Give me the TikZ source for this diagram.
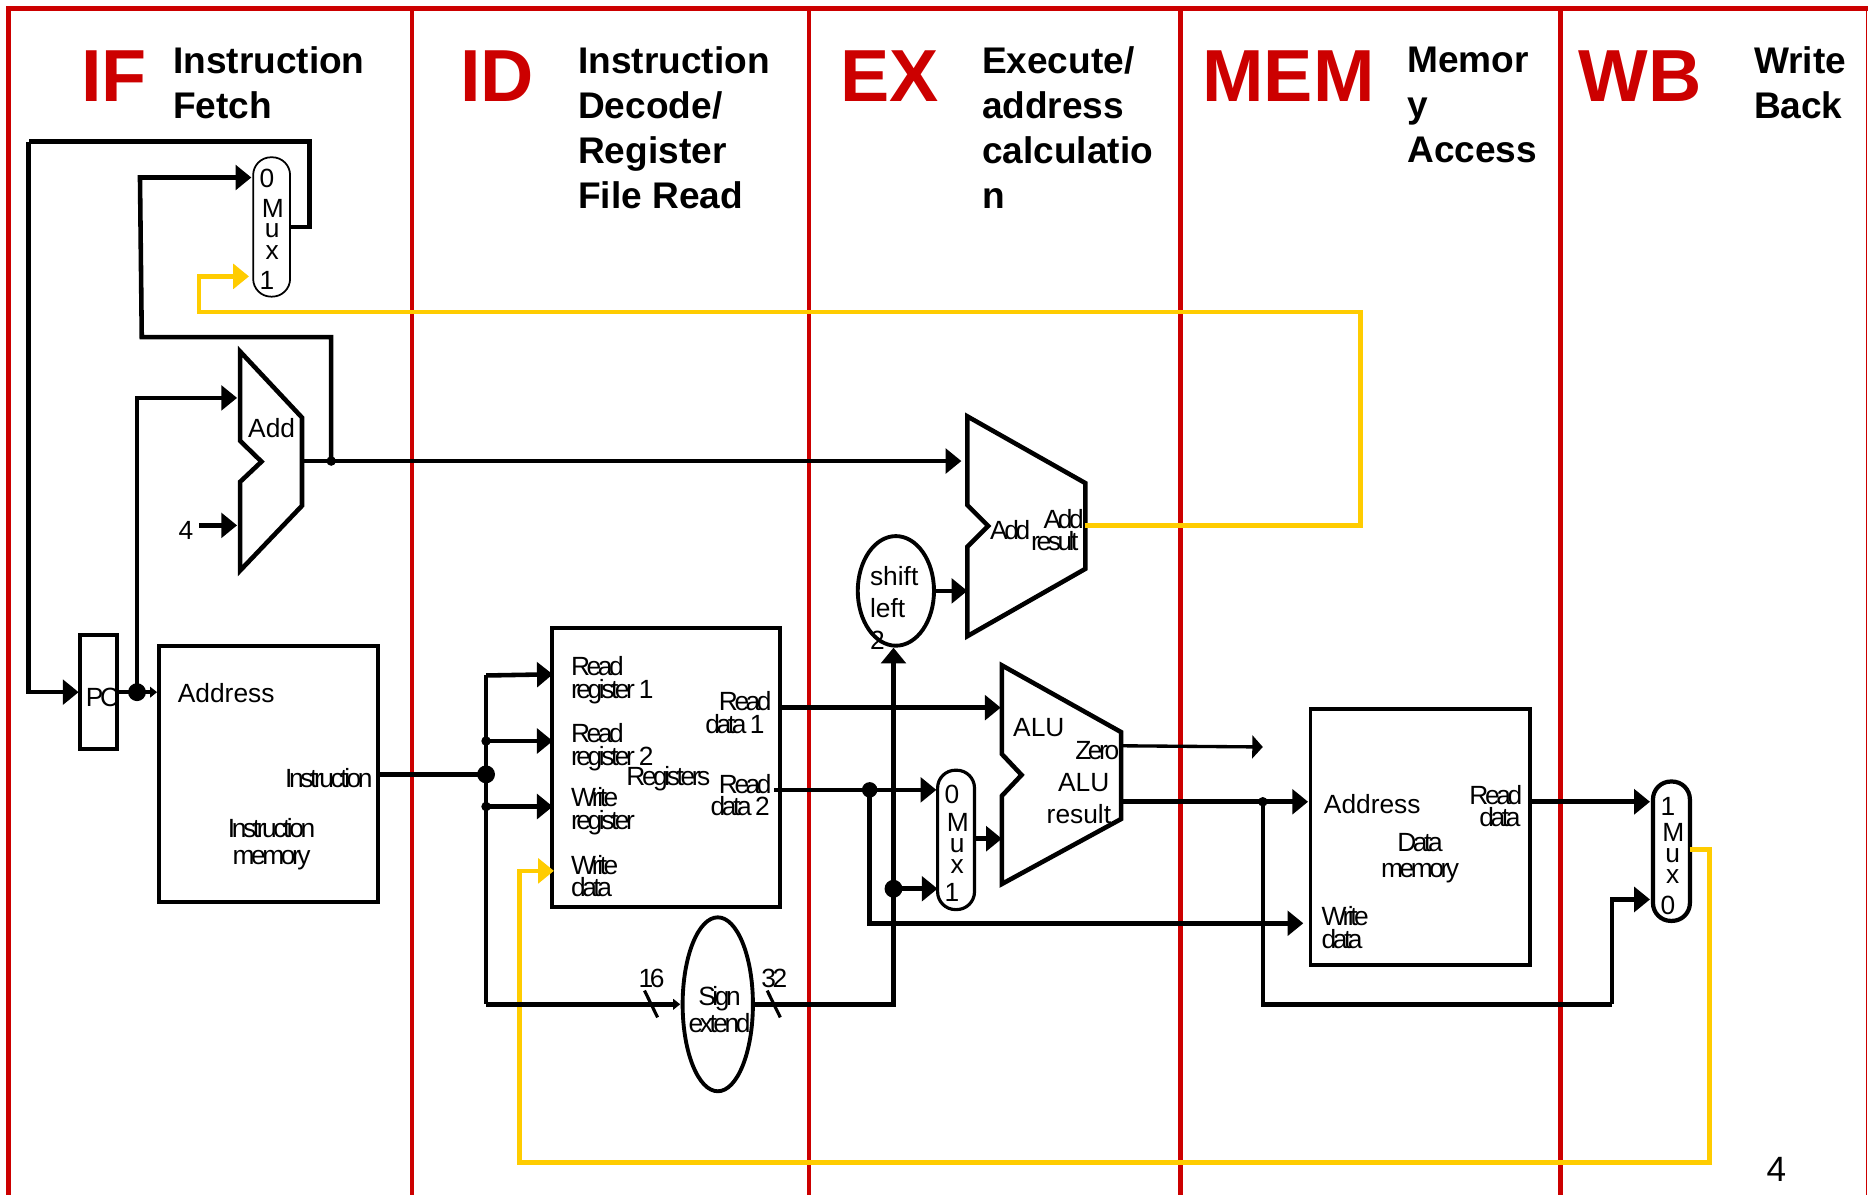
\documentclass[tikz,border=0pt]{standalone}
\usepackage{fontspec}
\setmainfont{Liberation Sans}
\newfontfamily\tightfont[LetterSpace=-13]{Liberation Sans}
\usetikzlibrary{arrows.meta,shapes.geometric}
\begin{document}
\begin{tikzpicture}[x=.023827cm,y=-.023827cm]
  \definecolor{stagered}{HTML}{CC0000}
  \definecolor{backwire}{HTML}{FFCC00}
  \def\u{.023827cm}
  \tikzset{
    wire/.style={line width=2.6pt},
    feed/.style={-{Triangle[length=9pt,width=14pt]}},
    tinyfeed/.style={-{Triangle[length=4pt,width=6pt]}},
    back/.style={line width=2.6pt,draw=backwire},
    unit/.style={draw,line width=2.2pt,inner sep=0pt},
    muxbox/.style={unit,rounded corners=15*\u,minimum width=31*\u,minimum height=117*\u},
    dot/.style={circle,fill=black,inner sep=0pt,minimum size=15*\u},
    smalldot/.style={circle,fill=black,inner sep=0pt,minimum size=8*\u},
    lab/.style={inner sep=0pt,font=\fontsize{15}{18.2}\selectfont},
    tight/.style={inner sep=0pt,font=\tightfont\fontsize{15}{12.9}\selectfont},
    stage/.style={inner sep=0pt,text=stagered,font=\bfseries\fontsize{42}{48}\selectfont},
    title/.style={inner sep=0pt,anchor=north west,align=left,font=\bfseries\fontsize{21.1}{25.6}\selectfont}
  }
  \useasboundingbox (0,0) rectangle (1568,1003);

  % Stage columns sit under everything else.
  \draw[stagered,line width=2.6pt] (7,1003) -- (7,7) -- (1568,7);
  \foreach \colx in {346,679,991,1310}
    \draw[stagered,line width=2.6pt] (\colx,7) -- (\colx,1003);
  \draw[stagered,line width=.5pt] (1567,7) -- (1567,1003);

  \foreach \st/\px in {IF/68,ID/386,EX/705,MEM/1009,WB/1325}
    \node[stage,anchor=base west] (\st) at (\px,85) {\st};
  \node[title] (iftitle) at (145,39) {Instruction\\Fetch};
  \node[title] (idtitle) at (485,39) {Instruction\\Decode/\\Register\\File Read};
  \node[title] (extitle) at (824,39) {Execute/\\address\\calculatio\\n};
  \node[title] (memtitle) at (1181,39.5) {Memor\\y\\Access};
  \node[title] (wbtitle) at (1472,39) {Write\\Back};

  % Units
  \node[unit,minimum width=31*\u,minimum height=96*\u] (pc) at (82.5,581) {};
  \node[unit,minimum width=184*\u,minimum height=215*\u] (imem) at (225.5,649.5) {};
  \node[unit,minimum width=192*\u,minimum height=234*\u] (regs) at (559,644) {};
  \node[unit,minimum width=184*\u,minimum height=215*\u] (dmem) at (1192,702.5) {};
  \node[unit,ellipse,minimum width=59*\u,minimum height=146*\u] (signext) at (602.5,843) {};
  \node[unit,ellipse,minimum width=64*\u,minimum height=92*\u] (shiftl) at (752,496) {};
  \node[muxbox,line width=1pt] (ifmux) at (228,190.5) {};
  \node[muxbox,line width=1.8pt] (exmux) at (802.5,705) {};
  \node[muxbox,line width=2.4pt] (wbmux) at (1403,714.5) {};
  \draw[wire] (201.5,295) -- (253.5,350.5) -- (253.5,424.5) -- (201.5,479)
    -- (201.5,404.5) -- (219.5,387.5) -- (201.5,370) -- cycle;
  \draw[wire] (812,349.5) -- (911,405.5) -- (911,477.5) -- (812,534)
    -- (812,459) -- (829.5,441.5) -- (812,424) -- cycle;
  \draw[wire] (841,558.5) -- (941,614.5) -- (941,687.5) -- (841,742)
    -- (841,668) -- (857.5,650.5) -- (841,633) -- cycle;

  % Labels
  \node[tight] (pclab) at (86,585) {PC};
  \node[lab] (pcadd) at (228,359) {Add};
  \node[lab] (four) at (156,445) {4};
  \node[lab,anchor=west] (imaddr) at (149,582) {Address};
  \node[tight,anchor=east] (imout) at (313,653) {Instruction};
  \node[tight,align=center] (imname) at (228,708.5) {Instruction\\[2.7pt]memory};
  \node[tight,anchor=west,align=left] (rr1) at (479,571) {Read\\register 1};
  \node[tight,anchor=west,align=left] (rr2) at (479,627) {Read\\register 2};
  \node[tight,anchor=west,align=left] (wr) at (479,681) {Write\\register};
  \node[tight,anchor=west,align=left] (wd) at (479,735.5) {Write\\data};
  \node[tight] (regname) at (561,654) {Registers};
  \node[tight,anchor=east,align=right] (rd1) at (648,598) {Read\\data\hspace{2pt}1\hspace*{4pt}};
  \node[tight,anchor=east,align=right] (rd2) at (648,667.5) {Read\\data\hspace{2pt}2\hspace*{1pt}};
  \node[tight,align=center] (signlab) at (604,847.5) {Sign\\extend};
  \node[tight] (w16) at (547,821) {16};
  \node[tight] (w32) at (650,821) {32};
  \node[lab,anchor=west,align=left] (shiftlab) at (730,510) {shift\\left\\2};
  \node[tight] (addlab) at (848,445) {Add};
  \node[tight,anchor=east,align=right] (addres) at (910,445) {Add\\result\hspace*{3pt}};
  \node[lab] (alulab) at (872,611) {ALU};
  \node[tight] (zerolab) at (921,630) {Zero};
  \node[lab,anchor=east,align=right] (alures) at (933,670.5) {ALU\hspace*{1pt}\\result};
  \node[lab,anchor=west] (dmaddr) at (1111,675) {Address};
  \node[tight,anchor=east,align=right] (dmread) at (1278,676.5) {Read\\data\hspace*{1pt}};
  \node[tight,align=center] (dmname) at (1192,720.5) {Data\\[2.2pt]memory};
  \node[tight,anchor=west,align=left] (dmwrite) at (1109,778.5) {Write\\data};
  \node[lab,font=\fontsize{20}{24}\selectfont] (pageno) at (1491,982) {4};
  \foreach \ch/\px/\py in {0/224/150,M/229/175,u/228.5/194,x/228.5/212,1/224/235}
    \node[lab] (ifmux-\ch) at (\px,\py) {\ch};
  \foreach \ch/\px/\py in {0/799/667,M/804/690,u/803.5/710,x/803.5/727,1/799/749}
    \node[lab] (exmux-\ch) at (\px,\py) {\ch};
  \foreach \ch/\px/\py in {1/1400/677,M/1404.5/699,u/1404/718,x/1404/736,0/1400/760}
    \node[lab] (wbmux-\ch) at (\px,\py) {\ch};

  % Pins and junctions
  \coordinate (looptop) at (260,119);
  \coordinate (loopleft) at (24,119);
  \coordinate (pcin) at (66,581);
  \coordinate (if0) at (211,149);
  \coordinate (if1) at (209,232);
  \coordinate (add1) at (199,334);
  \coordinate (add2) at (199,441);
  \coordinate (fourout) at (167,441);
  \coordinate (addout) at (253.5,387);
  \coordinate (exaddin) at (807,387);
  \coordinate (exaddout) at (911,441);
  \coordinate (pcbackup) at (278,283);
  \coordinate (pcbackleft) at (119,283);
  \coordinate (pcbacktop) at (117.5,149);
  \coordinate (instrout) at (317.5,650);
  \coordinate (rrin1) at (464,566);
  \coordinate (rrin2) at (464,622);
  \coordinate (wrin) at (464,677);
  \coordinate (wdin) at (465,731);
  \coordinate (rdout1) at (655,594);
  \coordinate (rdout2) at (650,663);
  \coordinate (aluin1) at (840,594);
  \coordinate (exin0) at (786,663);
  \coordinate (exin1) at (787,746);
  \coordinate (exout) at (818,704);
  \coordinate (aluin2) at (841,704);
  \coordinate (shiftout) at (784,496);
  \coordinate (shiftin) at (812,496);
  \coordinate (zeroout) at (941,626);
  \coordinate (zeroend) at (1060,627);
  \coordinate (aluout) at (941,673);
  \coordinate (dmin) at (1098,673);
  \coordinate (dmwd) at (1094,775);
  \coordinate (wbin1) at (1385,673);
  \coordinate (wbin0) at (1385,755);
  \coordinate (dmout) at (1284,673);
  \coordinate (sxin) at (571,843);
  \coordinate (sxout) at (632,843);
  \coordinate (wbout) at (1418.5,713);
  \coordinate (backright) at (1435,976);
  \coordinate (backleft) at (436,976);
  \coordinate (ifback) at (167,262);
  \coordinate (backturn) at (1142,262);
  \node[dot] (pcjoin) at (115,581) {};
  \node[smalldot] (addjoin) at (278,387) {};
  \node[dot] (busjoin) at (408,650) {};
  \node[smalldot] (busj2) at (408,622) {};
  \node[smalldot] (busj3) at (408,677) {};
  \coordinate (bustop) at (408,567);
  \coordinate (busbot) at (408,843);
  \node[dot,minimum size=13*\u] (rd2join) at (730,663) {};
  \node[dot] (sxjoin) at (750,746) {};
  \coordinate (sxturn) at (750,843);
  \node[smalldot] (alujoin) at (1060,673) {};
  \coordinate (aluturn) at (1060,843);
  \coordinate (wbturn) at (1353,843);

  % Selected-branch and write-back wires
  \draw[back,feed] (exaddout) -| (backturn) -- (ifback) |- (if1);
  \draw[back,feed] (wbout) -| (backright) -- (backleft) |- (wdin);

  % Data path
  \draw[wire] (ifmux.east) -| (looptop) -- (loopleft);
  \draw[wire,feed] (loopleft) |- (pcin);
  \draw[wire,tinyfeed] (pc.east |- pcjoin) -- (imem.west |- pcjoin);
  \draw[wire,feed] (pcjoin.center) |- (add1);
  \draw[wire,feed] (fourout) -- (add2);
  \draw[wire,feed] (addout) -- (exaddin);
  \draw[wire,feed] (addjoin.center) -- (pcbackup) -- (pcbackleft) -- (pcbacktop) -- (if0);
  \draw[wire] (instrout) -- (busjoin.center);
  \draw[wire,feed] (bustop) -- (rrin1);
  \draw[wire] (bustop) -- (busbot);
  \draw[wire,feed] (busj2.center) -- (rrin2);
  \draw[wire,feed] (busj3.center) -- (wrin);
  \draw[wire,tinyfeed] (busbot) -- (sxin);
  \draw[line width=1.8pt] (541,831.5) -- (552,854);
  \draw[line width=1.8pt] (644,831.5) -- (655,854);
  \draw[wire] (sxout) -- (sxturn) -- (sxjoin.center);
  \draw[wire,feed] (sxjoin.center) -- (shiftl.south -| sxjoin);
  \draw[wire,feed] (sxjoin.center) -- (exin1);
  \draw[wire,feed] (shiftout) -- (shiftin);
  \draw[wire,feed] (rdout1) -- (aluin1);
  \draw[wire,feed] (rdout2) -- (exin0);
  \draw[wire,feed] (rd2join.center) |- (dmwd);
  \draw[wire,feed] (exout) -- (aluin2);
  \draw[line width=1.9pt,-{Triangle[length=6pt,width=13pt]}] (zeroout) -- (zeroend);
  \draw[wire,feed] (aluout) -- (dmin);
  \draw[wire] (alujoin.center) -- (aluturn) -- (wbturn);
  \draw[wire,feed] (wbturn) |- (wbin0);
  \draw[wire,feed] (dmout) -- (wbin1);
\end{tikzpicture}
\end{document}
